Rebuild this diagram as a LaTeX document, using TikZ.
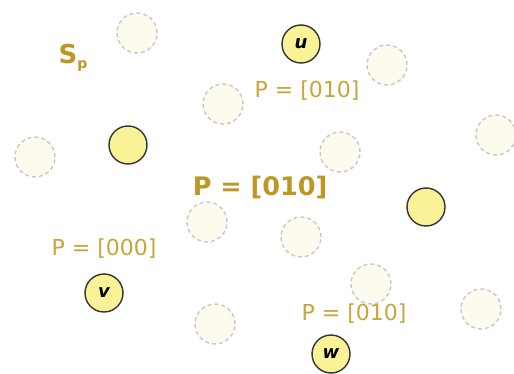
\documentclass[tikz,border=0pt]{standalone}
\usepackage{fontspec}
\setmainfont{DejaVu Sans}
\definecolor{gold}{RGB}{201,165,60}
\definecolor{goldb}{RGB}{190,150,35}
\definecolor{nodefill}{RGB}{250,242,150}
\definecolor{ghostfill}{RGB}{252,251,238}
\definecolor{ghostline}{RGB}{200,200,200}
\tikzset{
  ghost/.style={circle, draw=ghostline, fill=ghostfill, dash pattern=on 4pt off 3pt, line width=1.4pt, minimum size=40pt, inner sep=0pt},
  realnode/.style={circle, draw=black!80, fill=nodefill, line width=1.4pt, minimum size=38pt, inner sep=0pt, font=\fontsize{18}{18}\selectfont\bfseries\itshape},
  plabel/.style={text=gold, font=\fontsize{22}{22}\selectfont, inner sep=0pt},
}
\begin{document}
\begin{tikzpicture}[x=1pt,y=-1pt]
\useasboundingbox[fill=white] (0,0) rectangle (514,374);
% ghost nodes
\node[ghost] (g1) at (137,33) {};
\node[ghost] (g2) at (223,104) {};
\node[ghost] (g3) at (35,157) {};
\node[ghost] (g4) at (387,65) {};
\node[ghost] (g5) at (340,152) {};
\node[ghost] (g6) at (496,135) {};
\node[ghost] (g7) at (207,222) {};
\node[ghost] (g8) at (215,324) {};
\node[ghost] (g9) at (301,237) {};
\node[ghost] (g10) at (371,284) {};
\node[ghost] (g11) at (481,309) {};
% real nodes
\node[realnode] (a) at (128,145) {};
\node[realnode] (b) at (426,207) {};
\node[realnode] (u) at (301,44) {u};
\node[realnode] (v) at (104,293) {v};
\node[realnode] (w) at (331,354) {w};
% labels
\node[text=goldb, font=\fontsize{26}{26}\selectfont\bfseries, inner sep=0pt] (sp) at (73,58) {S\raisebox{-0.35ex}{\fontsize{14}{14}\selectfont p}};
\node[plabel] (lu) at (307,91) {P = [010]};
\node[plabel] (lv) at (104,249) {P = [000]};
\node[plabel] (lw) at (354,314) {P = [010]};
\node[text=goldb, font=\fontsize{25.5}{26}\selectfont\bfseries, inner sep=0pt] (big) at (260,187) {P = [010]};
\end{tikzpicture}
\end{document}
